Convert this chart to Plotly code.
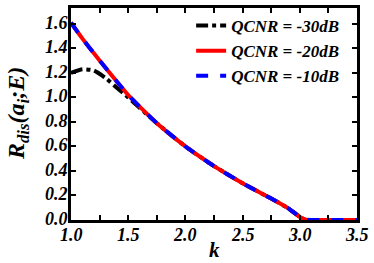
import plotly.graph_objects as go

k = [1.0, 1.1, 1.2, 1.3, 1.4, 1.5, 1.6, 1.75, 2.0, 2.25, 2.5, 2.75, 2.9, 3.0, 3.05, 3.1, 3.5]
r_m20 = [1.61, 1.48, 1.36, 1.245, 1.13, 1.02, 0.925, 0.79, 0.60, 0.44, 0.30, 0.175, 0.095, 0.025, 0.003, 0.0, 0.0]
r_m10 = [1.61, 1.48, 1.36, 1.245, 1.13, 1.02, 0.925, 0.79, 0.60, 0.44, 0.30, 0.175, 0.095, 0.025, 0.003, 0.0, 0.0]
r_m30 = [1.20, 1.23, 1.22, 1.16, 1.08, 1.00, 0.915, 0.79, 0.60, 0.44, 0.30, 0.175, 0.095, 0.025, 0.003, 0.0, 0.0]
names = ["QCNR = -30dB", "QCNR = -20dB", "QCNR = -10dB"]
xticks = [1.0, 1.5, 2.0, 2.5, 3.0, 3.5]
yticks = [0.0, 0.2, 0.4, 0.6, 0.8, 1.0, 1.2, 1.4, 1.6]

F = "Liberation Serif"
BI = dict(family=F, color="black", style="italic", weight="bold")

fig = go.Figure()
fig.add_trace(go.Scatter(x=k, y=r_m30, name=names[0], mode="lines",
                         line=dict(color="black", width=4, dash="dashdot", shape="spline", smoothing=0.5)))
fig.add_trace(go.Scatter(x=k, y=r_m20, name=names[1], mode="lines",
                         line=dict(color="#ff0000", width=4, shape="spline", smoothing=0.5)))
fig.add_trace(go.Scatter(x=k, y=r_m10, name=names[2], mode="lines",
                         line=dict(color="#0000ff", width=4, dash="dash", shape="spline", smoothing=0.5)))

annots = []
for v in xticks:
    annots.append(dict(text="%.1f" % v, xref="x", yref="paper", x=v, y=0,
                       xanchor="center", yanchor="middle", yshift=-15, showarrow=False,
                       font=dict(size=18, **BI)))
for v in yticks:
    annots.append(dict(text="%.1f" % v, xref="paper", yref="y", x=0, y=v,
                       xanchor="right", yanchor="middle", xshift=-1, yshift=1, showarrow=False,
                       font=dict(size=18, **BI)))
annots.append(dict(text="k", xref="paper", yref="paper", x=0.5, y=-0.14,
                   xanchor="center", yanchor="middle", showarrow=False,
                   font=dict(size=21, **BI)))
annots.append(dict(text="R<sub>dis</sub>(a<sub>i</sub>;E)", xref="paper", yref="paper",
                   x=-0.185, y=0.5, xanchor="center", yanchor="middle", textangle=-90,
                   showarrow=False, font=dict(size=24, **BI)))

fig.update_layout(
    width=374, height=263,
    margin=dict(l=71, r=17, t=5, b=43),
    paper_bgcolor="white", plot_bgcolor="white",
    showlegend=True,
    legend=dict(x=0.955, y=1.0, xanchor="right", yanchor="top",
                bgcolor="rgba(0,0,0,0)", borderwidth=0,
                font=dict(size=17, **BI),
                tracegroupgap=0, itemwidth=30),
    xaxis=dict(range=[1.0, 3.5], tickvals=xticks, showticklabels=False,
               ticks="inside", ticklen=5, tickwidth=2, tickcolor="black",
               minor=dict(dtick=0.25, tick0=1.0, ticks="inside", ticklen=5, tickwidth=2, tickcolor="black"),
               showline=True, linewidth=3, linecolor="black", mirror="ticks",
               showgrid=False, zeroline=False),
    yaxis=dict(range=[0, 1.73], tickvals=yticks, showticklabels=False,
               ticks="inside", ticklen=5, tickwidth=2, tickcolor="black",
               showline=True, linewidth=3, linecolor="black", mirror="ticks",
               showgrid=False, zeroline=False),
    annotations=annots,
)

fig.write_html("out.html", post_script="document.body.style.margin='0';",
               config={"displayModeBar": False})
